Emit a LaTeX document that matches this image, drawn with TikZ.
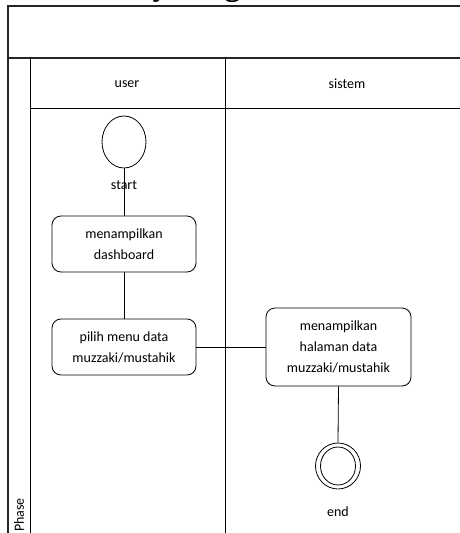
\documentclass[tikz,border=0pt]{standalone}
\usepackage{fontspec}
\setmainfont{Carlito}
\newfontfamily\titlefont{Liberation Serif}
\usetikzlibrary{shapes.geometric}
\begin{document}
\begin{tikzpicture}[x=1pt,y=-1pt,
  frame/.style={line width=1.1pt, draw=black!85},
  lane/.style={line width=0.9pt, draw=black},
  act/.style={draw, line width=0.8pt, rounded corners=9pt, align=center,
    font=\fontsize{14}{21}\selectfont, inner sep=0pt},
  lbl/.style={font=\fontsize{14}{17}\selectfont, inner sep=0pt},
  conn/.style={line width=0.8pt}]
\useasboundingbox (0,0) rectangle (460,533);
% title (clipped at top, as in the reference)
\node[anchor=base west, inner sep=0pt, font={\titlefont\bfseries\fontsize{32}{36}\selectfont}] (title) at (60,-5) {Activity Diagram};
% frame
\draw[frame] (470,6) -- (8,6) -- (8,540);
\draw[frame] (8,58) -- (470,58);
\draw[lane] (30,58) -- (30,540);
\draw[lane] (30,108) -- (470,108);
\draw[lane] (225,58) -- (225,540);
% headers
\node[lbl] (user) at (127,84) {user};
\node[lbl] (sistem) at (347,84) {sistem};
\node[lbl, rotate=90, anchor=west] (phase) at (19,532) {Phase};
% nodes
\node[draw, ellipse, line width=0.8pt, minimum width=44pt, minimum height=52pt, inner sep=0pt] (start) at (124,142) {};
\node[act, minimum width=144pt, minimum height=56pt] (dash) at (124,244) {menampilkan\\dashboard};
\node[act, minimum width=144pt, minimum height=56pt] (pilih) at (124,347) {pilih menu data\\muzzaki/mustahik};
\node[act, minimum width=145pt, minimum height=78pt] (hal) at (338.5,347) {menampilkan\\halaman data\\muzzaki/mustahik};
\node[draw, ellipse, line width=0.8pt, minimum width=45pt, minimum height=46pt, inner sep=0pt] (end) at (338,466) {};
\node[draw, ellipse, line width=0.8pt, minimum width=35pt, minimum height=38pt, inner sep=0pt] (endin) at (338,466) {};
% connectors
\draw[conn] (start.south) -- (dash.north);
\node[lbl] (startlbl) at (124,185) {start};
\draw[conn] (dash.south) -- (pilih.north);
\draw[conn] (pilih.east) -- (hal.west);
\draw[conn] (hal.south) -- (end.north);
\node[lbl] (endlbl) at (338,512) {end};
\end{tikzpicture}
\end{document}
